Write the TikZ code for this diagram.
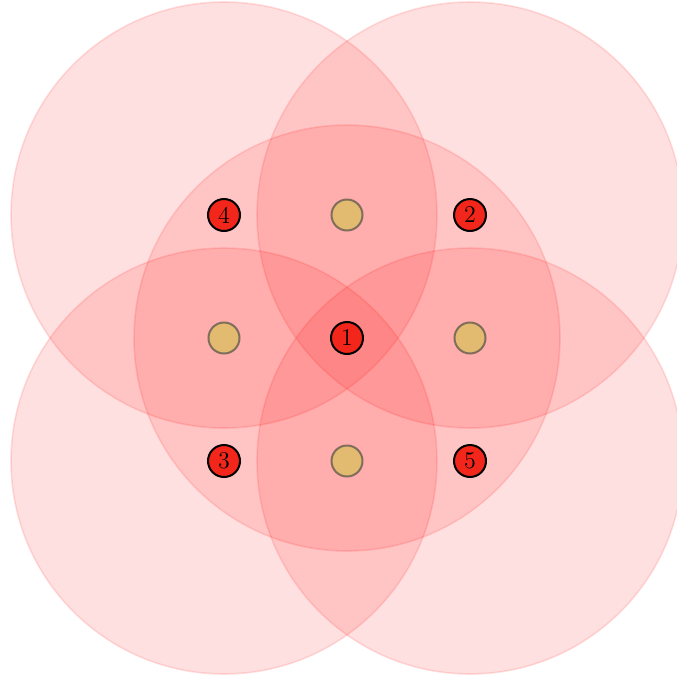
\documentclass[tikz,border=0pt]{standalone}
\begin{document}
\begin{tikzpicture}[x=0.5pt,y=-0.5pt,
  zone/.style={circle,minimum size=213pt,inner sep=0pt,fill=red,fill opacity=0.12,draw=red,draw opacity=0.12,line width=0.8pt},
  relay/.style={circle,minimum size=16pt,inner sep=0pt,fill={rgb,255:red,242;green,38;blue,26},draw=black,line width=1pt,font=\large},
  spot/.style={circle,minimum size=15.5pt,inner sep=0pt,fill={rgb,255:red,226;green,186;blue,112},draw={rgb,255:red,128;green,110;blue,90},line width=1pt}]
\useasboundingbox (0,0) rectangle (676,681);
\node[zone] (c1) at (347,338) {};
\node[zone] (c4) at (224,215) {};
\node[zone] (c2) at (470,215) {};
\node[zone] (c3) at (224,461) {};
\node[zone] (c5) at (470,461) {};
\node[spot] (t) at (347,215) {};
\node[spot] (l) at (224,338) {};
\node[spot] (r) at (470,338) {};
\node[spot] (b) at (347,461) {};
\node[relay] (n1) at (347,338) {1};
\node[relay] (n2) at (470,215) {2};
\node[relay] (n3) at (224,461) {3};
\node[relay] (n4) at (224,215) {4};
\node[relay] (n5) at (470,461) {5};
\end{tikzpicture}
\end{document}
